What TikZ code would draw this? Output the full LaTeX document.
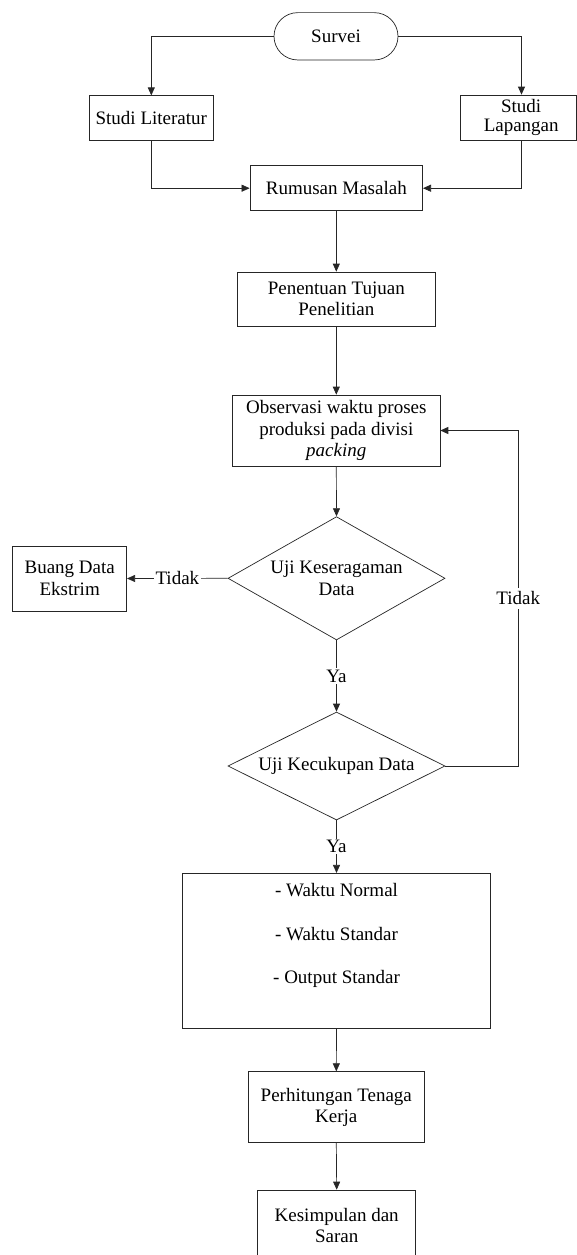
\documentclass[tikz,border=0pt]{standalone}
\usepackage{fontspec}
\setmainfont{Liberation Serif}
\usetikzlibrary{arrows.meta,shapes.geometric,shapes.misc}
\tikzset{
  txt/.style={font=\fontsize{19}{21.5}\selectfont, align=center},
  box/.style={txt, draw=black!85, line width=0.7pt, rectangle, inner sep=0pt},
  term/.style={txt, draw=black!85, line width=0.7pt, rounded rectangle, inner sep=0pt},
  dec/.style={txt, draw=black!85, line width=0.7pt, diamond, inner sep=0pt, aspect=2},
  conn/.style={draw=black!85, line width=0.7pt, -{Triangle[length=8pt,width=7pt]}},
  plain/.style={draw=black!85, line width=0.7pt},
  lbl/.style={txt, fill=white, inner sep=2pt}
}
\begin{document}
\begin{tikzpicture}[x=1pt,y=-1pt]
\useasboundingbox (0,0) rectangle (577,1255);
\clip (0,0) rectangle (577,1255);
\fill[white] (0,0) rectangle (577,1255);

\coordinate (rx) at (521.5,0);
\coordinate (loopx) at (518.3,0);

\node[term, minimum width=124pt, minimum height=47.3pt] (sur) at (336,36.3) {Survei};
\node[box, minimum width=124pt, minimum height=44.3pt] (lit) at (151.3,117.9) {Studi Literatur};
\node[box, minimum width=116.5pt, minimum height=45pt] (lap) at (518.2,117.5) {\hspace*{6pt}Studi\\[-2.5pt]\hspace*{6pt}Lapangan};
\node[box, minimum width=172.7pt, minimum height=45pt] (rum) at (336.3,188.2) {Rumusan Masalah};
\node[box, minimum width=198pt, minimum height=54pt] (pen) at (336.3,299) {Penentuan Tujuan\\Penelitian};
\node[box, minimum width=207.3pt, minimum height=71pt] (obs) at (336.3,430.5) {Observasi waktu proses\\produksi pada divisi\\\textit{packing}};
\node[dec, aspect=1.76, minimum width=217pt, minimum height=123.3pt] (d1) at (336.5,578.3) {Uji Keseragaman\\Data};
\node[box, minimum width=114pt, minimum height=65pt] (buang) at (69.7,578.5) {Buang Data\\Ekstrim};
\node[dec, aspect=2, minimum width=217pt, minimum height=108pt] (d2) at (336.5,766) {Uji Kecukupan Data};
\node[box, minimum width=308.4pt, minimum height=155pt] (hasil) at (336.5,950.8) {};
\node[txt, inner sep=0pt] (hasiltxt) at (336.5,935.7) {- Waktu Normal\\[21.8pt]- Waktu Standar\\[21.8pt]- Output Standar};
\node[box, minimum width=176pt, minimum height=71pt] (per) at (336.3,1107.2) {Perhitungan Tenaga\\Kerja};
\node[box, minimum width=158pt, minimum height=71pt] (kes) at (336.7,1225.5) {Kesimpulan dan\\Saran};

\draw[conn] (sur.west) -| (lit.north);
\draw[conn] (sur.east) -| (rx |- lap.north);
\draw[conn] (lit.south) |- (rum.west);
\draw[conn] (rx |- lap.south) |- (rum.east);
\draw[conn] (rum.south) -- (pen.north);
\draw[conn] (pen.south) -- (obs.north);
\draw[conn] (obs.south) -- (d1.north);
\draw[conn] (d1.west) -- node[lbl]{Tidak} (buang.east);
\draw[conn] (d1.south) -- node[lbl, inner sep=1.5pt]{Ya} (d2.north);
\draw[conn] (d2.south) -- node[lbl, inner sep=1.5pt]{Ya} (hasil.north);
\draw[conn] (d2.east) -- (loopx |- d2.east) -- node[lbl, inner sep=4pt]{Tidak} (loopx |- obs.east) -- (obs.east);
\draw[conn] (hasil.south) -- (per.north);
\draw[conn] (per.south) -- (kes.north);
\end{tikzpicture}
\end{document}
